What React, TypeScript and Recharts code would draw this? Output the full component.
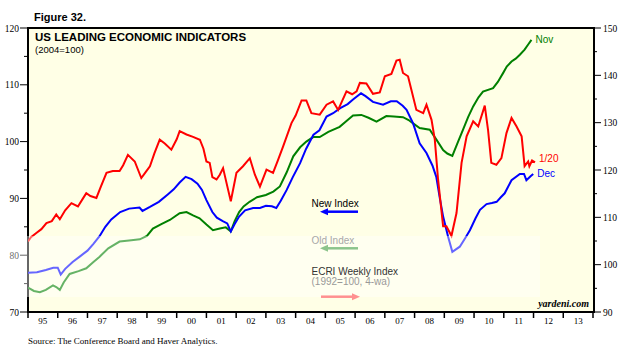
import { LabelList, Line, LineChart, XAxis, YAxis } from "recharts";

// year boundaries on the x axis and the two-digit labels shown between them
const years = [
  1995, 1996, 1997, 1998, 1999, 2000, 2001, 2002, 2003, 2004, 2005, 2006, 2007,
  2008, 2009, 2010, 2011, 2012, 2013, 2014,
];
const yearLabels = [
  "95", "96", "97", "98", "99", "00", "01", "02", "03", "04", "05", "06", "07",
  "08", "09", "10", "11", "12", "13",
];
const leftTicks = [70, 75, 80, 85, 90, 95, 100, 105, 110, 115, 120];
const rightTicks = [90, 95, 100, 105, 110, 115, 120, 125, 130, 135, 140, 145, 150];

// [year, value] — Conference Board LEI, new index (left axis)
const newIndex: [number, number][] = [
  [1995.0, 76.9], [1995.3, 77.0], [1995.6, 77.4], [1995.85, 77.8], [1996.0, 77.8],
  [1996.1, 76.6], [1996.25, 77.6], [1996.5, 78.8], [1996.75, 79.8], [1997.0, 80.8],
  [1997.2, 82.0], [1997.4, 83.3], [1997.6, 85.0], [1997.8, 86.3], [1998.1, 87.6],
  [1998.4, 88.2], [1998.75, 88.4], [1998.85, 87.8], [1999.1, 88.5], [1999.4, 89.4],
  [1999.7, 90.7], [1999.9, 91.6], [2000.1, 92.8], [2000.3, 93.8], [2000.5, 93.4],
  [2000.7, 92.6], [2000.85, 91.5], [2001.0, 89.7], [2001.2, 87.6], [2001.35, 86.6],
  [2001.55, 86.0], [2001.7, 85.6], [2001.82, 84.2], [2001.95, 85.5], [2002.1, 86.8],
  [2002.3, 87.9], [2002.57, 88.3], [2002.8, 88.3], [2003.0, 88.7], [2003.2, 88.6],
  [2003.35, 88.3], [2003.5, 89.6], [2003.7, 91.5], [2003.9, 93.7], [2004.15, 96.2],
  [2004.35, 98.7], [2004.6, 101.2], [2004.8, 102.0], [2005.04, 104.4], [2005.26, 105.0],
  [2005.5, 105.9], [2005.75, 106.6], [2005.93, 107.4], [2006.2, 108.5], [2006.35, 108.0],
  [2006.6, 107.0], [2006.94, 106.5], [2007.2, 107.1], [2007.4, 107.1], [2007.6, 106.3],
  [2007.73, 105.6], [2007.95, 103.2], [2008.17, 99.7], [2008.4, 98.0], [2008.6, 95.8],
  [2008.73, 93.8], [2008.85, 90.0], [2008.96, 86.8], [2009.13, 83.2], [2009.27, 80.6],
  [2009.52, 81.5], [2009.7, 83.0], [2009.86, 84.4], [2010.05, 86.5], [2010.2, 88.0],
  [2010.42, 89.0], [2010.6, 89.2], [2010.76, 89.4], [2010.9, 90.2], [2011.03, 90.9],
  [2011.26, 93.2], [2011.54, 94.3], [2011.68, 94.3], [2011.76, 93.2], [2011.9, 93.9],
  [2011.99, 94.3],
];

// [year, value] — old index (left axis)
const oldIndex: [number, number][] = [
  [1995.0, 74.3], [1995.2, 73.7], [1995.4, 73.5], [1995.6, 73.9], [1995.84, 74.7],
  [1995.95, 74.4], [1996.07, 73.9], [1996.2, 75.2], [1996.4, 76.7], [1996.7, 77.2],
  [1996.96, 77.7], [1997.2, 78.8], [1997.4, 79.7], [1997.7, 81.2], [1998.08, 82.4],
  [1998.4, 82.6], [1998.76, 82.8], [1999.0, 83.4], [1999.2, 84.7], [1999.5, 85.5],
  [1999.77, 86.2], [2000.1, 87.4], [2000.33, 87.6], [2000.55, 87.0], [2000.77, 86.5],
  [2001.0, 85.4], [2001.22, 84.4], [2001.45, 84.7], [2001.65, 84.9], [2001.82, 84.2],
  [2001.95, 86.0], [2002.1, 87.6], [2002.25, 88.6], [2002.45, 89.4], [2002.7, 90.2],
  [2003.0, 90.6], [2003.25, 91.2], [2003.47, 92.1], [2003.7, 94.6], [2003.92, 97.4],
  [2004.15, 99.0], [2004.36, 100.0], [2004.59, 100.8], [2004.81, 100.8], [2005.1, 101.7],
  [2005.48, 102.6], [2005.7, 103.6], [2005.93, 104.6], [2006.21, 104.7], [2006.45, 104.2],
  [2006.72, 103.5], [2007.05, 104.5], [2007.3, 104.4], [2007.61, 104.3], [2007.8, 103.8],
  [2007.95, 103.2], [2008.17, 102.4], [2008.51, 102.1], [2008.74, 100.3], [2008.96, 98.5],
  [2009.1, 97.9], [2009.27, 97.5], [2009.45, 99.8], [2009.63, 102.1], [2009.8, 104.3],
  [2009.97, 106.2], [2010.15, 107.8], [2010.3, 108.8], [2010.64, 109.4], [2010.8, 110.5],
  [2010.98, 112.1], [2011.1, 113.2], [2011.26, 114.1], [2011.4, 114.6], [2011.54, 115.3],
  [2011.7, 116.2], [2011.82, 117.1], [2011.93, 117.9],
];

// [year, value] — ECRI weekly leading index, 1992=100, 4-wk avg (right axis)
const ecriWeekly: [number, number][] = [
  [1995.0, 104.9], [1995.1, 105.8], [1995.28, 106.7], [1995.45, 107.5], [1995.62, 108.8],
  [1995.8, 109.2], [1995.95, 110.6], [1996.07, 109.6], [1996.25, 111.5], [1996.46, 113.0],
  [1996.68, 112.3], [1996.85, 114.0], [1996.96, 115.1], [1997.1, 114.5], [1997.3, 114.1],
  [1997.45, 116.5], [1997.64, 119.4], [1997.85, 119.8], [1998.08, 119.8], [1998.2, 121.0],
  [1998.36, 123.2], [1998.59, 121.8], [1998.81, 118.3], [1998.95, 119.5], [1999.1, 120.8],
  [1999.25, 123.5], [1999.43, 126.4], [1999.6, 125.6], [1999.82, 124.3], [2000.0, 126.5],
  [2000.1, 128.2], [2000.33, 127.5], [2000.55, 127.0], [2000.78, 126.4], [2000.9, 124.5],
  [2001.0, 121.8], [2001.11, 121.5], [2001.2, 118.5], [2001.34, 118.0], [2001.45, 119.0],
  [2001.56, 120.4], [2001.73, 115.8], [2001.82, 113.4], [2002.01, 119.4], [2002.23, 120.8],
  [2002.46, 122.5], [2002.63, 119.0], [2002.8, 116.5], [2003.02, 120.1], [2003.24, 119.4],
  [2003.4, 122.0], [2003.58, 125.0], [2003.86, 129.9], [2004.0, 131.5], [2004.2, 134.7],
  [2004.36, 134.7], [2004.53, 132.0], [2004.81, 131.7], [2005.04, 133.8], [2005.26, 134.5],
  [2005.43, 132.7], [2005.71, 136.6], [2005.9, 136.0], [2006.05, 136.6], [2006.16, 138.4],
  [2006.38, 138.3], [2006.6, 136.1], [2006.83, 136.4], [2007.0, 139.8], [2007.22, 140.3],
  [2007.39, 143.1], [2007.5, 143.3], [2007.61, 140.5], [2007.78, 139.8], [2007.89, 137.0],
  [2008.06, 132.7], [2008.29, 132.0], [2008.4, 133.8], [2008.57, 130.6], [2008.68, 126.4],
  [2008.79, 118.0], [2008.96, 108.1], [2009.07, 108.1], [2009.24, 106.1], [2009.41, 110.9],
  [2009.58, 121.5], [2009.75, 127.1], [2009.97, 130.3], [2010.14, 129.2], [2010.36, 133.6],
  [2010.47, 128.5], [2010.58, 121.5], [2010.75, 121.1], [2010.92, 122.5], [2011.09, 127.8],
  [2011.26, 131.0], [2011.43, 129.2], [2011.6, 127.1], [2011.7, 120.8], [2011.82, 121.8],
  [2011.86, 120.8], [2011.95, 122.0], [2012.05, 121.6],
];

const RED = "#ff0000";
const BLUE = "#0000ff";
const GREEN = "#008000";
const CREAM = "#ffffe6";
const SERIF = "'Liberation Serif', 'Times New Roman', serif";
const SANS = "'Liberation Sans', Arial, sans-serif";

const W = 640;
const H = 360;
const PLOT = { left: 28, right: 593, top: 28, bottom: 312 };
const HALF_YEAR = (PLOT.right - PLOT.left) / (years.length - 1) / 2;

const toRows = (pts: [number, number][]) => pts.map(([t, v]) => ({ t, v }));

function YearTick({ x, y, payload, index }: any) {
  const label = yearLabels[index];
  return (
    <g>
      <line x1={x} x2={x} y1={y} y2={y + 6} stroke="#000" strokeWidth={1.5} />
      {label ? (
        <text x={x + HALF_YEAR} y={y + 11.5} textAnchor="middle" fontFamily={SERIF} fontSize={9} fill="#000">
          {label}
        </text>
      ) : null}
    </g>
  );
}

function LeftTick({ x, y, payload }: any) {
  const major = payload.value % 10 === 0;
  return (
    <g>
      <line x1={x - (major ? 8 : 4)} x2={x} y1={y} y2={y} stroke="#000" strokeWidth={1} />
      {major ? (
        <text x={x - 9} y={y + 3.5} textAnchor="end" fontFamily={SERIF} fontSize={9.5} fill="#000">
          {payload.value}
        </text>
      ) : null}
    </g>
  );
}

function RightTick({ x, y, payload }: any) {
  const major = payload.value % 10 === 0;
  return (
    <g>
      <line x1={x} x2={x + (major ? 8 : 4)} y1={y} y2={y} stroke="#000" strokeWidth={1} />
      {major ? (
        <text x={x + 10} y={y + 3.5} textAnchor="start" fontFamily={SERIF} fontSize={9.5} fill="#000">
          {payload.value}
        </text>
      ) : null}
    </g>
  );
}

// label drawn only next to the last point of a series
const endLabel = (text: string, color: string, last: number, dy: number) => (p: any) =>
  p.index === last ? (
    <text x={p.x + 4} y={p.y + dy} fontFamily={SANS} fontSize={10} fill={color}>
      {text}
    </text>
  ) : null;

function Arrow({ x1, x2, y, color, pointLeft }: { x1: number; x2: number; y: number; color: string; pointLeft: boolean }) {
  const tip = pointLeft ? x1 : x2;
  const base = pointLeft ? x1 + 8 : x2 - 8;
  return (
    <g>
      <line x1={pointLeft ? base : x1} x2={pointLeft ? x2 : base} y1={y} y2={y} stroke={color} strokeWidth={2.5} />
      <polygon points={`${tip},${y} ${base},${y - 3.5} ${base},${y + 3.5}`} fill={color} />
    </g>
  );
}

export default function App() {
  const newRows = toRows(newIndex);
  const oldRows = toRows(oldIndex);
  const ecriRows = toRows(ecriWeekly);

  return (
    <div style={{ position: "fixed", left: 0, top: 0, width: W, height: H, background: "#fff", overflow: "hidden" }}>
      <div
        style={{
          position: "absolute",
          left: PLOT.left - 1.5,
          top: PLOT.top - 1.5,
          width: PLOT.right - PLOT.left + 3,
          height: PLOT.bottom - PLOT.top + 2.5,
          boxSizing: "border-box",
          border: "2.5px solid #000",
          background: CREAM,
        }}
      />
      <div style={{ position: "absolute", left: 0, top: 0 }}>
        <LineChart width={W} height={H} margin={{ top: PLOT.top, right: 0, bottom: H - PLOT.bottom - 30, left: 0 }}>
          <XAxis
            dataKey="t"
            type="number"
            domain={[1995, 2014]}
            ticks={years}
            interval={0}
            allowDataOverflow
            axisLine={false}
            tickLine={false}
            tickSize={0}
            tickMargin={0}
            height={30}
            tick={<YearTick />}
          />
          <YAxis
            yAxisId="left"
            domain={[70, 120]}
            ticks={leftTicks}
            interval={0}
            allowDataOverflow
            axisLine={false}
            tickLine={false}
            tickSize={0}
            tickMargin={0}
            width={PLOT.left}
            tick={<LeftTick />}
          />
          <YAxis
            yAxisId="right"
            orientation="right"
            domain={[90, 150]}
            ticks={rightTicks}
            interval={0}
            allowDataOverflow
            axisLine={false}
            tickLine={false}
            tickSize={0}
            tickMargin={0}
            width={W - PLOT.right}
            tick={<RightTick />}
          />
          <Line data={oldRows} dataKey="v" yAxisId="left" type="linear" stroke={GREEN} strokeWidth={2} dot={false} isAnimationActive={false}>
            <LabelList dataKey="v" content={endLabel("Nov", GREEN, oldRows.length - 1, 3.5)} />
          </Line>
          <Line data={newRows} dataKey="v" yAxisId="left" type="linear" stroke={BLUE} strokeWidth={2} dot={false} isAnimationActive={false}>
            <LabelList dataKey="v" content={endLabel("Dec", BLUE, newRows.length - 1, 3.5)} />
          </Line>
          <Line data={ecriRows} dataKey="v" yAxisId="right" type="linear" stroke={RED} strokeWidth={2} dot={false} isAnimationActive={false}>
            <LabelList dataKey="v" content={endLabel("1/20", RED, ecriRows.length - 1, 0)} />
          </Line>
        </LineChart>
      </div>
      <svg width={W} height={H} style={{ position: "absolute", left: 0, top: 0, pointerEvents: "none" }}>
        {/* faded watermark band from the source image */}
        <rect x={0} y={236} width={540} height={61} fill="#fff" opacity={0.4} />
        <text x={34} y={20.7} fontFamily={SANS} fontWeight="bold" fontSize={11}>Figure 32.</text>
        <text x={35} y={40.7} fontFamily={SANS} fontWeight="bold" fontSize={11.5}>US LEADING ECONOMIC INDICATORS</text>
        <text x={35} y={53} fontFamily={SANS} fontSize={9.5}>(2004=100)</text>

        <text x={311.5} y={207} fontFamily={SANS} fontSize={10} fill="#000">New Index</text>
        <Arrow x1={320} x2={358} y={211.7} color={BLUE} pointLeft />
        <text x={311.5} y={243.5} fontFamily={SANS} fontSize={10} fill="#a8a8a8">Old Index</text>
        <Arrow x1={320} x2={358} y={248.3} color="#8cc48c" pointLeft />
        <text x={311.5} y={274.5} fontFamily={SANS} fontSize={10} fill="#333">ECRI Weekly Index</text>
        <text x={311.5} y={284.5} fontFamily={SANS} fontSize={10} fill="#999">(1992=100, 4-wa)</text>
        <Arrow x1={321} x2={360} y={296.7} color="#ff9090" pointLeft={false} />

        <text x={589} y={307} textAnchor="end" fontFamily={SERIF} fontStyle="italic" fontWeight="bold" fontSize={10}>
          yardeni.com
        </text>
        <text x={28} y={344} fontFamily={SERIF} fontSize={9}>
          Source: The Conference Board and Haver Analytics.
        </text>
      </svg>
    </div>
  );
}
